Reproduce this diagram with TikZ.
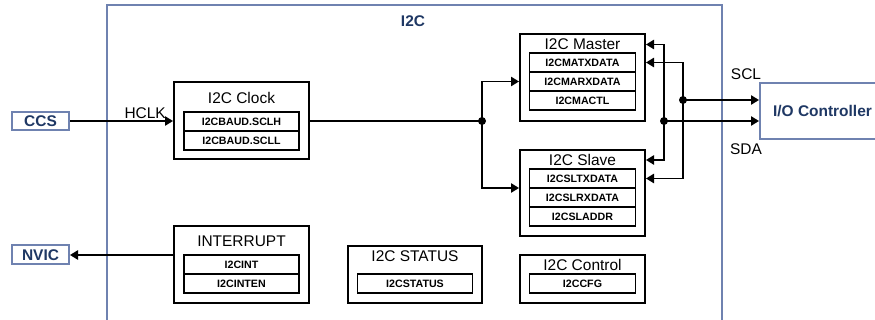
\documentclass[tikz,border=0pt]{standalone}
\usepackage{fontspec}
\setmainfont{Liberation Sans}
\usetikzlibrary{positioning,arrows.meta}
\definecolor{framegray}{RGB}{111,130,176}
\definecolor{tinavy}{RGB}{31,56,100}
\tikzset{
  block/.style={draw, line width=1.5pt, fill=white},
  blocktitle/.style={font=\fontsize{11.6}{13}\selectfont, inner sep=0pt},
  reg/.style={draw, line width=0.8pt, outer sep=0pt, inner sep=0pt, minimum height=14.25pt, font=\fontsize{8}{9}\selectfont\bfseries},
  widereg/.style={reg, minimum width=86.25pt},
  narrowreg/.style={reg, minimum width=79.5pt},
  extbox/.style={draw=framegray, line width=1.5pt, fill=white, inner sep=0pt, text=tinavy, font=\fontsize{11.6}{13}\selectfont\bfseries},
  sig/.style={line width=1.2pt, -{Triangle[length=6pt,width=7pt]}},
  siglabel/.style={font=\fontsize{11.6}{13}\selectfont, inner sep=1.5pt},
  junction/.style={circle, fill, inner sep=0pt, minimum size=6pt},
}
\begin{document}
\begin{tikzpicture}[x=0.75pt, y=0.75pt]
  \clip (0,0) rectangle (875,-320);
  % I2C frame, open at the bottom
  \draw[framegray, line width=1.5pt] (107,-330) -- (107,-5) -- (722,-5) -- (722,-330);
  \node[text=tinavy, font=\fontsize{11.6}{13}\selectfont\bfseries] (i2clbl) at (413,-21) {I2C};

  % outside blocks
  \node[extbox, minimum width=42.75pt, minimum height=13.5pt] (ccs) at (40.5,-121) {CCS};
  \node[extbox, minimum width=42.75pt, minimum height=14.25pt] (nvic) at (40.5,-255) {NVIC};
  \node[extbox, minimum width=93.75pt, minimum height=42pt] (ioc) at (822.5,-111) {I/O Controller};

  % clock
  \node[block, minimum width=101.25pt, minimum height=57.75pt] (clock) at (241.5,-120.5) {};
  \node[blocktitle] (ctitle) at (241.5,-97.5) {I2C Clock};
  \node[widereg] (sclh) at (241.5,-121.5) {I2CBAUD.SCLH};
  \node[widereg, below=0pt of sclh] (scll) {I2CBAUD.SCLL};

  % master
  \node[block, minimum width=93.75pt, minimum height=65.25pt] (master) at (582.5,-77.5) {};
  \node[blocktitle] (mtitle) at (582.5,-44.5) {I2C Master};
  \node[narrowreg] (mtx) at (582.5,-62.5) {I2CMATXDATA};
  \node[narrowreg, below=0pt of mtx] (mrx) {I2CMARXDATA};
  \node[narrowreg, below=0pt of mrx] (mctl) {I2CMACTL};

  % slave
  \node[block, minimum width=93.75pt, minimum height=64.5pt] (slave) at (582.5,-193) {};
  \node[blocktitle] (stitle) at (582.5,-160) {I2C Slave};
  \node[narrowreg] (stx) at (582.5,-178.5) {I2CSLTXDATA};
  \node[narrowreg, below=0pt of stx] (srx) {I2CSLRXDATA};
  \node[narrowreg, below=0pt of srx] (sadr) {I2CSLADDR};

  % interrupt
  \node[block, minimum width=101.25pt, minimum height=57.75pt] (intr) at (241.5,-264.5) {};
  \node[blocktitle] (ititle) at (241.5,-241) {INTERRUPT};
  \node[widereg] (iint) at (241.5,-264.5) {I2CINT};
  \node[widereg, below=0pt of iint] (iinten) {I2CINTEN};

  % status
  \node[block, minimum width=100.5pt, minimum height=42.75pt] (status) at (415,-274.5) {};
  \node[blocktitle] (sttitle) at (415,-256.5) {I2C STATUS};
  \node[widereg] (stat) at (415,-283.5) {I2CSTATUS};

  % control
  \node[block, minimum width=93.75pt, minimum height=36pt] (ctrl) at (582.5,-279) {};
  \node[blocktitle] (cttitle) at (582.5,-265) {I2C Control};
  \node[narrowreg] (ccfg) at (582.5,-283.5) {I2CCFG};

  % connectors
  \coordinate (split) at (482,-121);
  \coordinate (sda) at (664,-121);
  \coordinate (scl) at (683,-100);
  \draw[sig] (ccs.east) -- node[siglabel, pos=0.73, above] {HCLK} (clock.west |- ccs.east);
  \draw[line width=1.2pt] (clock.east |- split) -- (split);
  \draw[sig] (split) |- (master.west |- mrx);
  \draw[sig] (split) |- (slave.west |- stx.south);
  \draw[sig] (sda) |- (master.east |- mtitle);
  \draw[sig] (sda) |- (slave.east |- stitle);
  \draw[sig] (scl) |- (master.east |- mtx);
  \draw[sig] (scl) |- (slave.east |- stx);
  \draw[sig] (scl) -- (ioc.west |- scl);
  \draw[sig] (sda) -- (ioc.west |- sda);
  \draw[sig] (intr.west |- nvic) -- (nvic.east);
  \node[junction] at (split) {};
  \node[junction] at (sda) {};
  \node[junction] at (scl) {};
  \node[siglabel] (scllbl) at (746,-74) {SCL};
  \node[siglabel] (sdalbl) at (746,-149) {SDA};
\end{tikzpicture}
\end{document}
